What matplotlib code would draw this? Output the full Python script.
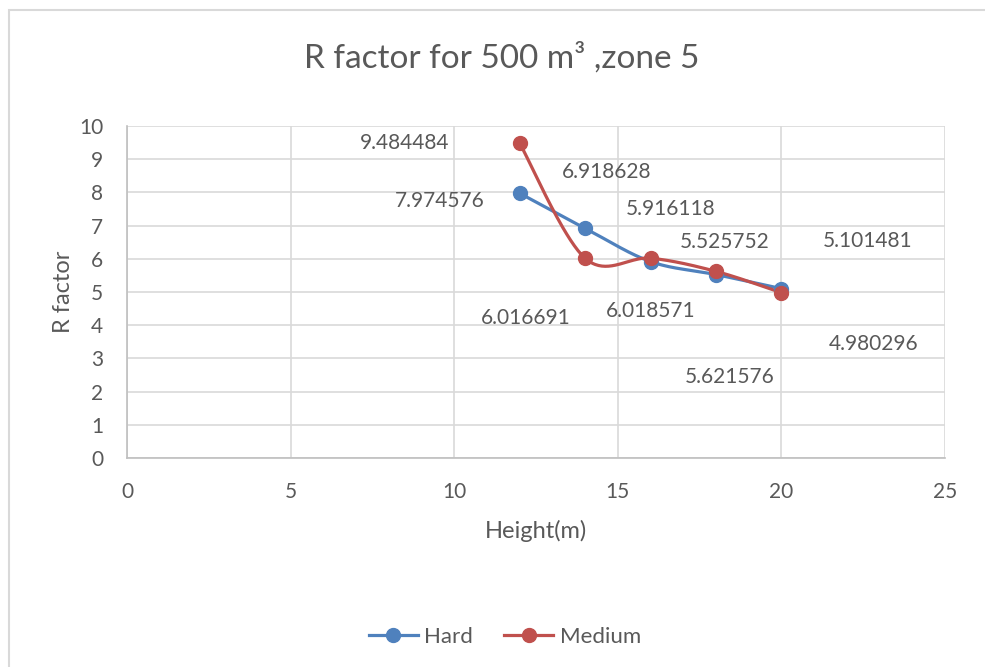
import numpy as np
import matplotlib
matplotlib.use("Agg")
import matplotlib.pyplot as plt
from matplotlib.patches import Rectangle
from matplotlib.lines import Line2D

plt.rcParams['font.family'] = ['Lato', 'DejaVu Sans']

heights = [12, 14, 16, 18, 20]
hard = [7.974576, 6.918628, 5.916118, 5.525752, 5.101481]
medium = [9.484484, 6.016691, 6.018571, 5.621576, 4.980296]
series_names = ["Hard", "Medium"]
xticks = [0, 5, 10, 15, 20, 25]
yticks = list(range(0, 11))

BLUE = "#4F81BD"
RED = "#C0504D"
TXT = "#595959"

def smooth(x, y, n=40):
    # Catmull-Rom style smoothing (like Excel's smoothed line)
    x = np.asarray(x, float); y = np.asarray(y, float)
    px = np.concatenate([[x[0]], x, [x[-1]]])
    py = np.concatenate([[y[0]], y, [y[-1]]])
    ox, oy = [], []
    for i in range(1, len(px) - 2):
        p0 = np.array([px[i-1], py[i-1]]); p1 = np.array([px[i], py[i]])
        p2 = np.array([px[i+1], py[i+1]]); p3 = np.array([px[i+2], py[i+2]])
        c1 = p1 + (p2 - p0) / 6.0
        c2 = p2 - (p3 - p1) / 6.0
        t = np.linspace(0, 1, n)[:, None]
        b = (1-t)**3*p1 + 3*(1-t)**2*t*c1 + 3*(1-t)*t**2*c2 + t**3*p2
        ox.extend(b[:, 0]); oy.extend(b[:, 1])
    return np.array(ox), np.array(oy)

fig = plt.figure(figsize=(9.85, 6.67), dpi=100)
fig.patches.append(Rectangle((9/985, -0.01), 1.1, 1 - 10/667 + 0.01, transform=fig.transFigure,
                             fill=False, edgecolor="#d9d9d9", linewidth=1.5))
ax = fig.add_axes([127/985, 1 - 458/667, 818/985, 332/667])
ax.set_xlim(0, 25)
ax.set_ylim(0, 10)
ax.set_xticks(xticks)
ax.set_yticks(yticks)
ax.grid(True, color="#d9d9d9", linewidth=1.2)
ax.set_axisbelow(True)
for s in ["top", "right"]:
    ax.spines[s].set_visible(False)
for s in ["left", "bottom"]:
    ax.spines[s].set_color("#bfbfbf")
    ax.spines[s].set_linewidth(1.2)
ax.tick_params(length=0, labelsize=15, colors=TXT)
ax.tick_params(axis='y', pad=17)
ax.tick_params(axis='x', pad=17)

for vals, col in [(hard, BLUE), (medium, RED)]:
    sx, sy = smooth(heights, vals)
    ax.plot(sx, sy, color=col, lw=2.3, solid_capstyle='round', zorder=3)
    ax.plot(heights, vals, 'o', color=col, ms=10, zorder=4)

hard_off = [(-80, -8), (22, 56), (20, 53), (9, 33), (86, 48)]
med_off = [(-115, 0), (-59, -60), (0, -53), (14, -106), (92, -51)]
for vals, offs in [(hard, hard_off), (medium, med_off)]:
    for x, y, o in zip(heights, vals, offs):
        ax.annotate(f"{y:.6f}".rstrip('0'), (x, y), xytext=o, textcoords='offset pixels',
                    ha='center', va='center', fontsize=15, color=TXT, zorder=5)

ax.set_xlabel("Height(m)", fontsize=17, color=TXT, labelpad=13)
ax.set_ylabel("R factor", fontsize=17, color=TXT, labelpad=4)
fig.text(502/985, 1 - 58/667, "R factor for 500 m\u00b3 ,zone 5", ha='center', va='center',
         fontsize=24, color=TXT)

handles = [Line2D([0], [0], color=BLUE, lw=2.3, marker='o', ms=10),
           Line2D([0], [0], color=RED, lw=2.3, marker='o', ms=10)]
leg = fig.legend(handles, series_names, loc='center', bbox_to_anchor=(505/985, 1 - 637/667),
                 ncol=2, frameon=False, fontsize=16, handlelength=2.2, columnspacing=1.4,
                 handletextpad=0.3)
for t in leg.get_texts():
    t.set_color(TXT)

fig.savefig("out.png", dpi=100)
